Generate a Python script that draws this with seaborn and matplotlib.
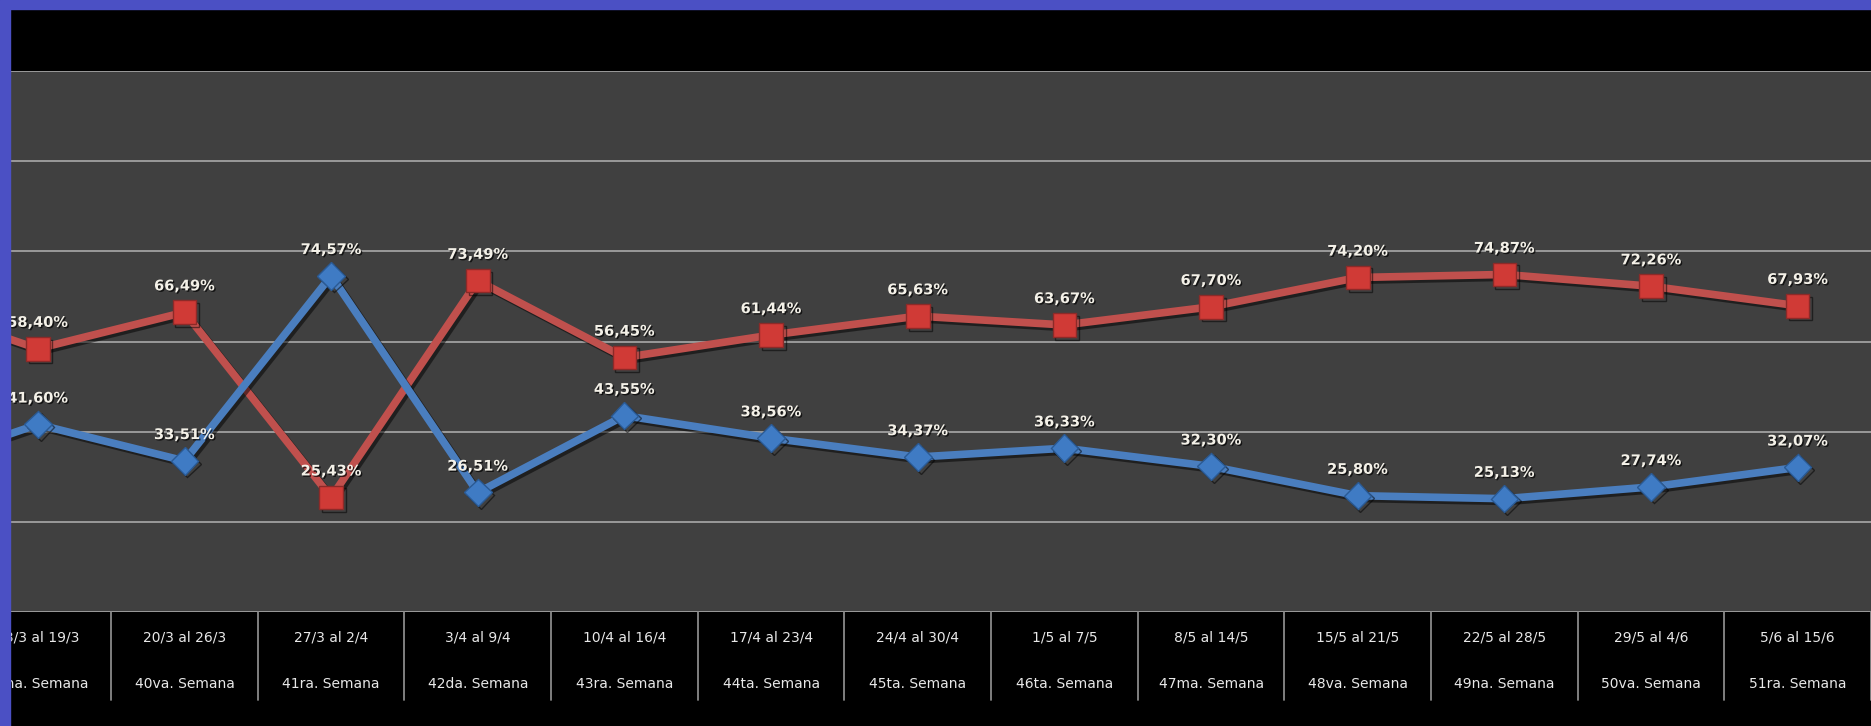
import seaborn as sns
import matplotlib.pyplot as plt
import matplotlib.patheffects as pe
import matplotlib.font_manager as fm
from matplotlib.patches import Rectangle
import pandas as pd

# dati (la prima settimana è fuori dal ritaglio, stimata dalla pendenza delle linee)
fechas = ["6/3 al 12/3", "13/3 al 19/3", "20/3 al 26/3", "27/3 al 2/4", "3/4 al 9/4",
          "10/4 al 16/4", "17/4 al 23/4", "24/4 al 30/4", "1/5 al 7/5", "8/5 al 14/5",
          "15/5 al 21/5", "22/5 al 28/5", "29/5 al 4/6", "5/6 al 15/6"]
semanas = ["38va. Semana", "39na. Semana", "40va. Semana", "41ra. Semana", "42da. Semana",
           "43ra. Semana", "44ta. Semana", "45ta. Semana", "46ta. Semana", "47ma. Semana",
           "48va. Semana", "49na. Semana", "50va. Semana", "51ra. Semana"]
rojo = [69.5, 58.40, 66.49, 25.43, 73.49, 56.45, 61.44, 65.63, 63.67, 67.70, 74.20, 74.87, 72.26, 67.93]
azul = [30.5, 41.60, 33.51, 74.57, 26.51, 43.55, 38.56, 34.37, 36.33, 32.30, 25.80, 25.13, 27.74, 32.07]

df = pd.DataFrame({"pos": range(len(fechas)), "rojo": rojo, "azul": azul})

sns.set_style("dark")
nomi = {f.name for f in fm.fontManager.ttflist}
narrow = "Liberation Sans Narrow" if "Liberation Sans Narrow" in nomi else "DejaVu Sans"
plt.rcParams["font.family"] = ["DejaVu Sans"]

fig = plt.figure(figsize=(18.71, 7.26), dpi=100, facecolor="black")
ax = fig.add_axes([10 / 1871, 1 - 612 / 726, 1 - 10 / 1871, (612 - 71) / 726])
ax.set_facecolor("#404040")

for v in range(0, 121, 20):
    ax.axhline(v, color="#9a9a9a", lw=1.4, zorder=1)

ombra = [pe.SimpleLineShadow(offset=(2, -2), alpha=0.5), pe.Normal()]
sns.lineplot(data=df, x="pos", y="rojo", ax=ax, color="#c0504d", lw=5.5, marker="s",
             markersize=17, markerfacecolor="#d03a36", markeredgecolor="#8c2a28",
             markeredgewidth=1, sort=False, path_effects=ombra, zorder=3)
sns.lineplot(data=df, x="pos", y="azul", ax=ax, color="#4a7ebf", lw=5.5, marker="D",
             markersize=14, markerfacecolor="#3f7bc4", markeredgecolor="#2a5a94",
             markeredgewidth=1, sort=False, path_effects=ombra, zorder=3)

testo_ombra = [pe.withSimplePatchShadow(offset=(1, -1), shadow_rgbFace="black", alpha=0.7)]
for i in range(len(fechas)):
    for serie in (rojo, azul):
        ax.annotate(f"{serie[i]:.2f}%".replace(".", ","), (i, serie[i]), xytext=(0, 19),
                    textcoords="offset points", ha="center", va="center",
                    fontsize=10.5, fontweight="bold", color="#f4f1e8",
                    path_effects=testo_ombra, zorder=5)

ax.set_xlim(0.81, 13.5)
ax.set_ylim(0, 120)
ax.set_xticks([])
ax.set_yticks([])
ax.set_xlabel("")
ax.set_ylabel("")
for s in ax.spines.values():
    s.set_visible(False)

# tabella sotto l'asse
tr = ax.get_xaxis_transform()
for i in range(len(fechas)):
    ax.text(i, -0.048, fechas[i], transform=tr, ha="center", va="center",
            fontsize=10, color="#e8e8e8", family=narrow, clip_on=False)
    ax.text(i, -0.133, semanas[i], transform=tr, ha="center", va="center",
            fontsize=10, color="#e8e8e8", family=narrow, clip_on=False)
    ax.plot([i + 0.5, i + 0.5], [0, -0.163], transform=tr, color="#8a8a8a",
            lw=1.3, clip_on=False)

# cornice blu della diapositiva
fig.patches.append(Rectangle((0, 1 - 9 / 726), 1, 9 / 726, transform=fig.transFigure,
                             color="#4b50c4", zorder=10))
fig.patches.append(Rectangle((0, 0), 10 / 1871, 1, transform=fig.transFigure,
                             color="#4b50c4", zorder=10))

fig.savefig("out.png", dpi=100, facecolor="black")
